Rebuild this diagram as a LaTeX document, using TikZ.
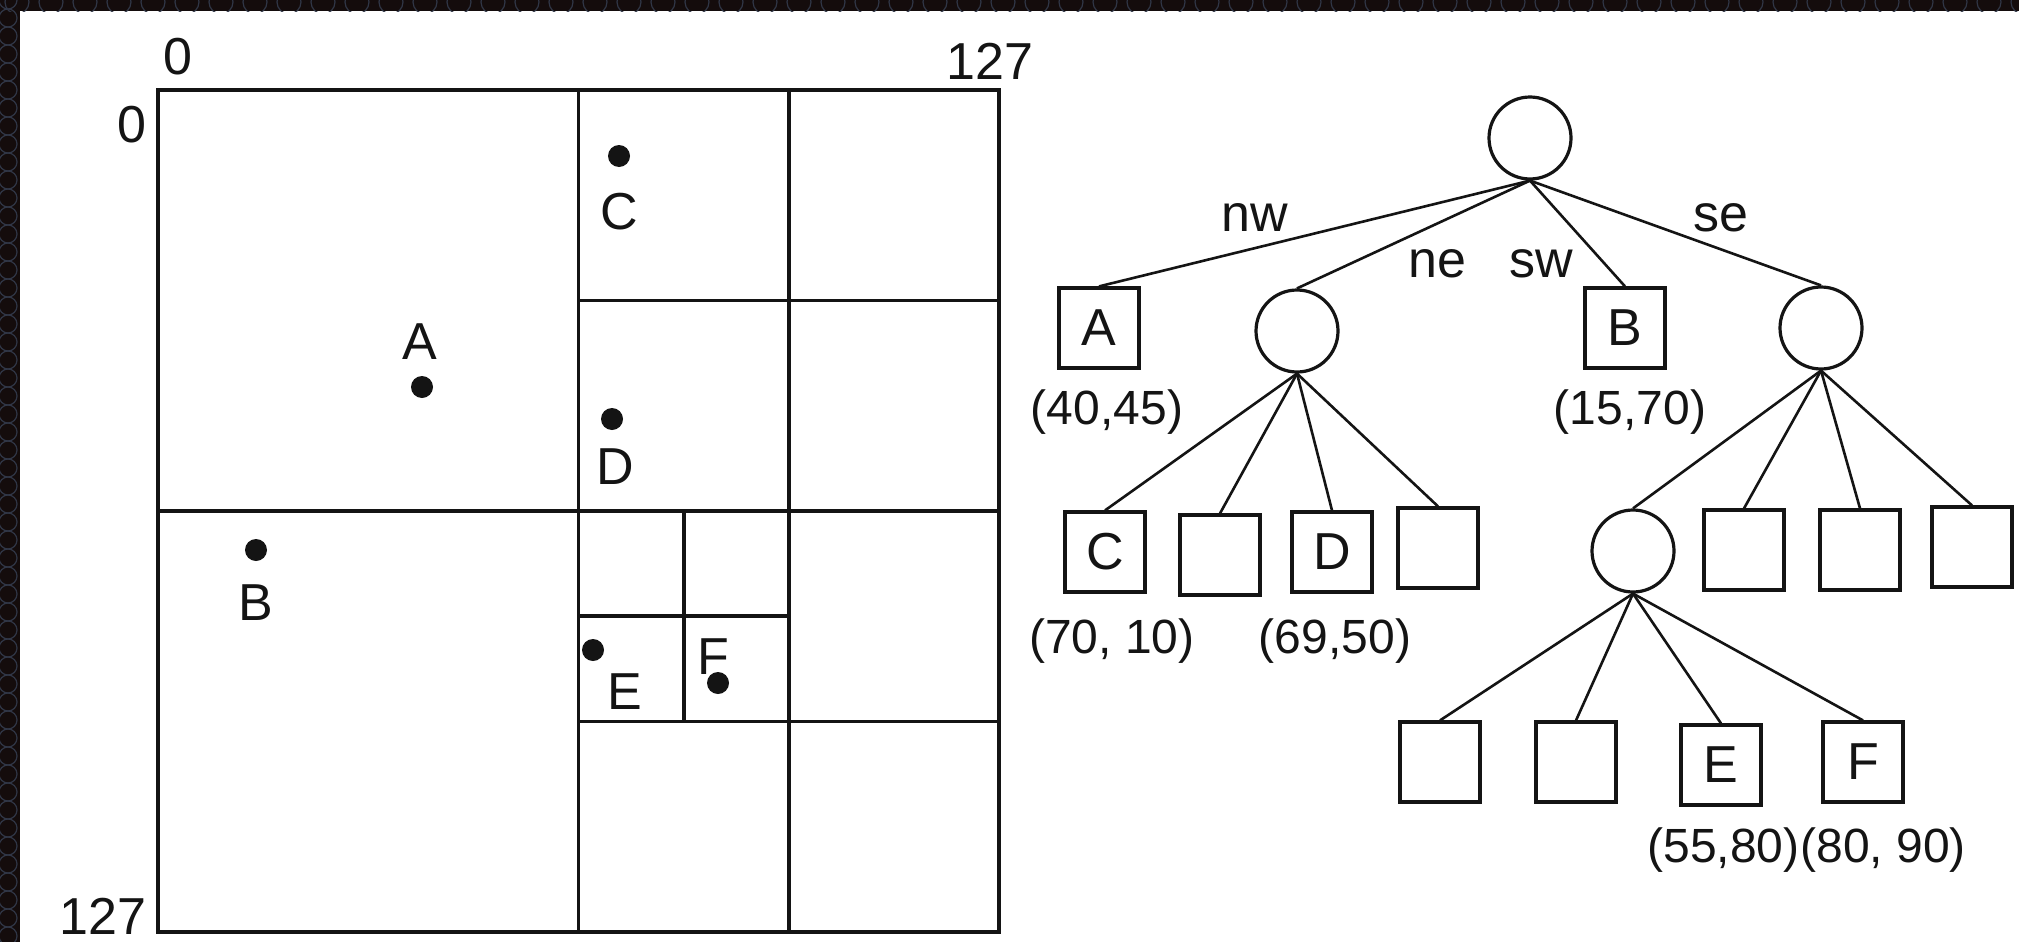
\documentclass[tikz,border=0pt]{standalone}
\usepackage{fontspec}
\setmainfont{Liberation Sans}
\definecolor{framecol}{RGB}{20,12,12}
\definecolor{patcol}{RGB}{48,54,70}
\definecolor{ink}{RGB}{20,20,20}
\begin{document}
\begin{tikzpicture}[x=0.5pt,y=-0.5pt]
\tikzset{
 lbl/.style={font=\fontsize{26}{30}\selectfont, inner sep=0pt, text=ink},
 coord/.style={font=\fontsize{24}{28}\selectfont, inner sep=0pt, text=ink},
 leaf/.style={draw=ink, line width=1.6pt, minimum width=40pt, minimum height=40pt, inner sep=0pt, font=\fontsize{26}{30}\selectfont, text=ink},
 inner/.style={draw=ink, circle, line width=1.6pt, minimum size=41pt, inner sep=0pt},
 edge/.style={draw=ink, line width=1.3pt},
 gridline/.style={draw=ink, line width=1.6pt},
 dot/.style={fill=ink, circle, minimum size=11pt, inner sep=0pt},
}
\useasboundingbox (0,0) rectangle (2019,942);
\fill[white] (0,0) rectangle (2019,942);
% dark frame band
\fill[framecol] (0,0) rectangle (2019,11);
\fill[framecol] (0,0) rectangle (20,942);
\begin{scope}
\clip (0,0) rectangle (2019,11);
\foreach \i in {0,...,60} \draw[patcol, line width=0.6pt] (\i*34+17,2) circle[radius=6pt];
\end{scope}
\begin{scope}
\clip (0,0) rectangle (20,942);
\foreach \j in {0,...,53} \draw[patcol, line width=0.6pt] (8,\j*18) circle[radius=4.5pt];
\end{scope}

% ---------- quadtree region plan ----------
\draw[gridline] (158,90) rectangle (999,932);
\draw[gridline] (578.5,90) -- (578.5,932);
\draw[gridline] (158,511) -- (999,511);
\draw[gridline] (789,90) -- (789,932);
\draw[gridline] (578.5,300.5) -- (999,300.5);
\draw[gridline] (578.5,721.5) -- (999,721.5);
\draw[gridline] (684,511) -- (684,721.5);
\draw[gridline] (578.5,616) -- (789,616);

\node[lbl] (x0) at (178,57) {0};
\node[lbl] (x127) at (990,61) {127};
\node[lbl] (y0) at (132,125) {0};
\node[lbl] (y127) at (103,916) {127};

\node[dot] (pA) at (422,387) {};
\node[lbl] (lA) at (420,342) {A};
\node[dot] (pB) at (256,550) {};
\node[lbl] (lB) at (256,603) {B};
\node[dot] (pC) at (619,156) {};
\node[lbl] (lC) at (619,212) {C};
\node[dot] (pD) at (612,419) {};
\node[lbl] (lD) at (615,467) {D};
\node[dot] (pE) at (593,650) {};
\node[lbl] (lE) at (625,692) {E};
\node[dot] (pF) at (718,683) {};
\node[lbl] (lF) at (713,657) {F};

% ---------- quadtree ----------
\node[inner] (root) at (1530,138) {};
\node[leaf] (nA) at (1099,328) {A};
\node[inner] (nNE) at (1297,331) {};
\node[leaf] (nB) at (1625,328) {B};
\node[inner] (nSE) at (1821,328) {};

\node[leaf] (nC) at (1105,552) {C};
\node[leaf] (n2) at (1220,555) {};
\node[leaf] (nD) at (1332,552) {D};
\node[leaf] (n4) at (1438,548) {};

\node[inner] (nSW) at (1633,551) {};
\node[leaf] (s2) at (1744,550) {};
\node[leaf] (s3) at (1860,550) {};
\node[leaf] (s4) at (1972,547) {};

\node[leaf] (t1) at (1440,762) {};
\node[leaf] (t2) at (1576,762) {};
\node[leaf] (nE) at (1721,765) {E};
\node[leaf] (nF) at (1863,762) {F};

\draw[edge] (root.south) -- (nA.north);
\draw[edge] (root.south) -- (nNE.north);
\draw[edge] (root.south) -- (nB.north);
\draw[edge] (root.south) -- (nSE.north);
\foreach \c in {nC,n2,nD,n4} \draw[edge] (nNE.south) -- (\c.north);
\foreach \c in {nSW,s2,s3,s4} \draw[edge] (nSE.south) -- (\c.north);
\foreach \c in {t1,t2,nE,nF} \draw[edge] (nSW.south) -- (\c.north);

\node[lbl] (enw) at (1255,218) {nw};
\node[lbl] (ene) at (1437,264) {ne};
\node[lbl] (esw) at (1541,264) {sw};
\node[lbl] (ese) at (1721,218) {se};

\node[coord] (cA) at (1107,412) {(40,45)};
\node[coord] (cB) at (1630,412) {(15,70)};
\node[coord] (cC) at (1112,641) {(70, 10)};
\node[coord] (cD) at (1335,641) {(69,50)};
\node[coord, anchor=east] (cE) at (1800,850) {(55,80)};
\node[coord, anchor=west] (cF) at (cE.east) {(80, 90)};
\end{tikzpicture}
\end{document}
